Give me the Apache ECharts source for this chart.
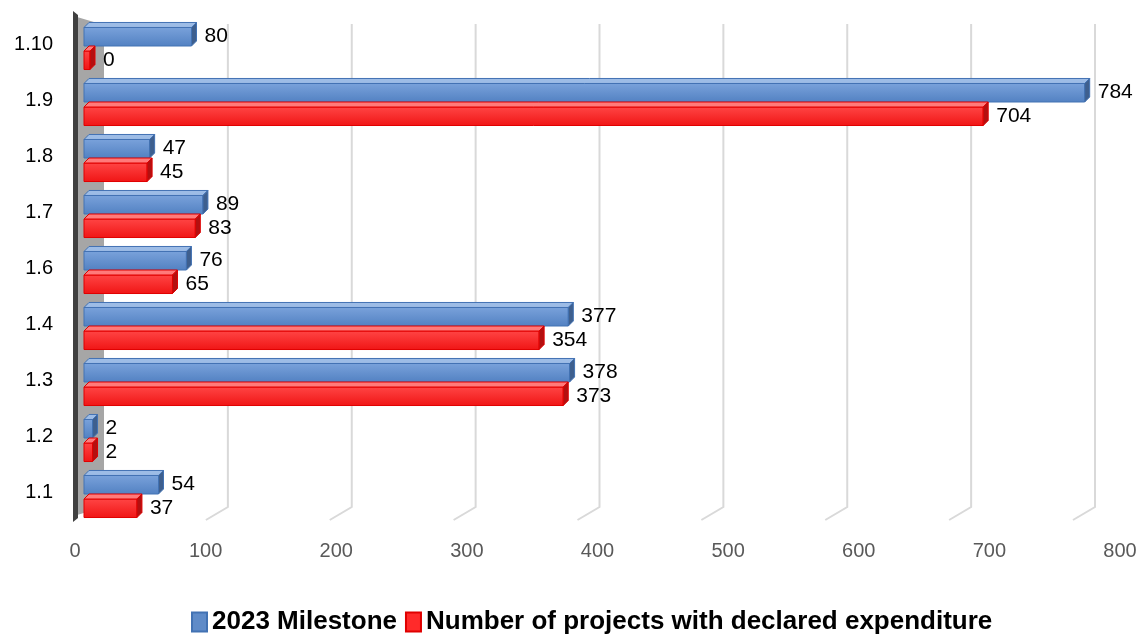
<!DOCTYPE html>
<html>
<head>
<meta charset="utf-8">
<script src="https://cdn.jsdelivr.net/npm/echarts@6/dist/echarts.min.js"></script>
<style>
  html, body { margin: 0; padding: 0; background: #fff; }
  #chart { width: 1147px; height: 634px; }
</style>
</head>
<body>
<div id="chart"></div>
<script>
// Categories listed top to bottom
const categories = ['1.10', '1.9', '1.8', '1.7', '1.6', '1.4', '1.3', '1.2', '1.1'];
const milestone = [80, 784, 47, 89, 76, 377, 378, 2, 54];
const declared = [0, 704, 45, 83, 65, 354, 373, 2, 37];
const axisTicks = [0, 100, 200, 300, 400, 500, 600, 700, 800];
const seriesNames = ['2023 Milestone', 'Number of projects with declared expenditure'];

const FONT = 'Liberation Sans, Arial, sans-serif';

const palettes = [
  { front: ['#7aa2db', '#5281c2'], top: '#9dbce6', end: '#3e5f8e', border: '#4272b3', legend: '#5f8bc8' },
  { front: ['#ff4545', '#f01515'], top: '#ff7a7a', end: '#b31010', border: '#e00000', legend: '#ff2a2a' }
];

// Box-shaped bar: front face, a thin top face and a darker end cap
function boxBar(side) {
  const pal = palettes[side];
  return function (params, api) {
    const idx = api.value(0);
    const v = api.value(1);
    const base = api.coord([0, idx]);
    const x0 = base[0] - 6;
    const yc = base[1];
    const x1 = api.coord([v, idx])[0];
    const band = api.size([0, 1])[1];
    const h = band * 0.42;
    const d = 5;
    const top = side === 0 ? yc - h + 2 : yc + 2;
    return {
      type: 'group',
      children: [
        {
          type: 'rect',
          shape: { x: x0, y: top + d, width: Math.max(x1 - x0, 0), height: h - d },
          style: {
            fill: new echarts.graphic.LinearGradient(0, 0, 0, 1, [
              { offset: 0, color: pal.front[0] },
              { offset: 1, color: pal.front[1] }
            ]),
            stroke: pal.border, lineWidth: 1
          }
        },
        {
          type: 'polygon',
          shape: { points: [[x0, top + d], [x0 + d, top], [x1 + d, top], [x1, top + d]] },
          style: { fill: pal.top, stroke: pal.border, lineWidth: 1 }
        },
        {
          type: 'polygon',
          shape: { points: [[x1, top + d], [x1 + d, top], [x1 + d, top + h - d], [x1, top + h]] },
          style: { fill: pal.end, stroke: pal.border, lineWidth: 1 }
        },
        {
          type: 'text',
          style: {
            text: String(v), x: x1 + d + 8, y: top + h / 2 + 2,
            textVerticalAlign: 'middle', textAlign: 'left',
            fill: '#000', font: '21px ' + FONT
          }
        }
      ]
    };
  };
}

// Back-wall gridlines with a short slanted run across the floor
function backGrid(params, api) {
  const x = api.coord([api.value(0), 0])[0];
  const yTop = params.coordSys.y;
  const yBot = params.coordSys.y + params.coordSys.height;
  return {
    type: 'polyline',
    shape: { points: [[x, yTop], [x, yBot], [x - 22, yBot + 13]] },
    style: { stroke: '#d9d9d9', lineWidth: 2, fill: null }
  };
}

const chart = echarts.init(document.getElementById('chart'), null, { renderer: 'canvas' });

chart.setOption({
  animation: false,
  backgroundColor: '#fff',
  grid: [
    { left: 90, right: 42, top: 16, bottom: 114 },
    { left: 104, right: 52, top: 24, bottom: 127 },
    { left: 75, right: 27, top: 16, bottom: 101 }
  ],
  xAxis: [
    { gridIndex: 0, type: 'value', min: 0, max: 800, show: false },
    { gridIndex: 1, type: 'value', min: 0, max: 800, show: false },
    {
      gridIndex: 2, type: 'value', min: 0, max: 800, interval: 100,
      axisLine: { show: false }, axisTick: { show: false }, splitLine: { show: false },
      axisLabel: { color: '#595959', fontSize: 20, fontFamily: FONT, margin: 8 }
    }
  ],
  yAxis: [
    {
      gridIndex: 0, type: 'category', data: categories, inverse: true,
      axisLine: { show: false }, axisTick: { show: false },
      axisLabel: { color: '#000', fontSize: 20, fontFamily: FONT, margin: 37 }
    },
    { gridIndex: 1, type: 'value', min: 0, max: 1, show: false },
    { gridIndex: 2, type: 'value', min: 0, max: 1, show: false }
  ],
  legend: {
    data: seriesNames,
    bottom: -6,
    left: 186,
    icon: 'rect',
    itemWidth: 15,
    itemHeight: 19,
    itemGap: 8,
    textStyle: { color: '#000', fontSize: 26, fontWeight: 'bold', fontFamily: FONT }
  },
  graphic: [
    {
      type: 'polygon', z: 0,
      shape: { points: [[77, 17], [104, 25], [104, 507], [77, 515]] },
      style: { fill: '#a6a6a6' }
    },
    {
      type: 'polygon', z: 0,
      shape: { points: [[73, 11], [78, 15], [78, 518], [73, 522]] },
      style: { fill: '#404040' }
    }
  ],
  series: [
    {
      type: 'custom', name: 'grid', xAxisIndex: 1, yAxisIndex: 1, silent: true, z: 1,
      data: axisTicks.filter(t => t > 0).map(t => [t]),
      encode: { x: 0 },
      renderItem: backGrid
    },
    {
      type: 'custom', name: seriesNames[0], xAxisIndex: 0, yAxisIndex: 0, z: 3,
      itemStyle: { color: palettes[0].legend, borderColor: palettes[0].border, borderWidth: 1 },
      data: categories.map((c, i) => [i, milestone[i]]),
      encode: { y: 0, x: 1 },
      renderItem: boxBar(0)
    },
    {
      type: 'custom', name: seriesNames[1], xAxisIndex: 0, yAxisIndex: 0, z: 4,
      itemStyle: { color: palettes[1].legend, borderColor: palettes[1].border, borderWidth: 1 },
      data: categories.map((c, i) => [i, declared[i]]),
      encode: { y: 0, x: 1 },
      renderItem: boxBar(1)
    }
  ]
});
</script>
</body>
</html>
